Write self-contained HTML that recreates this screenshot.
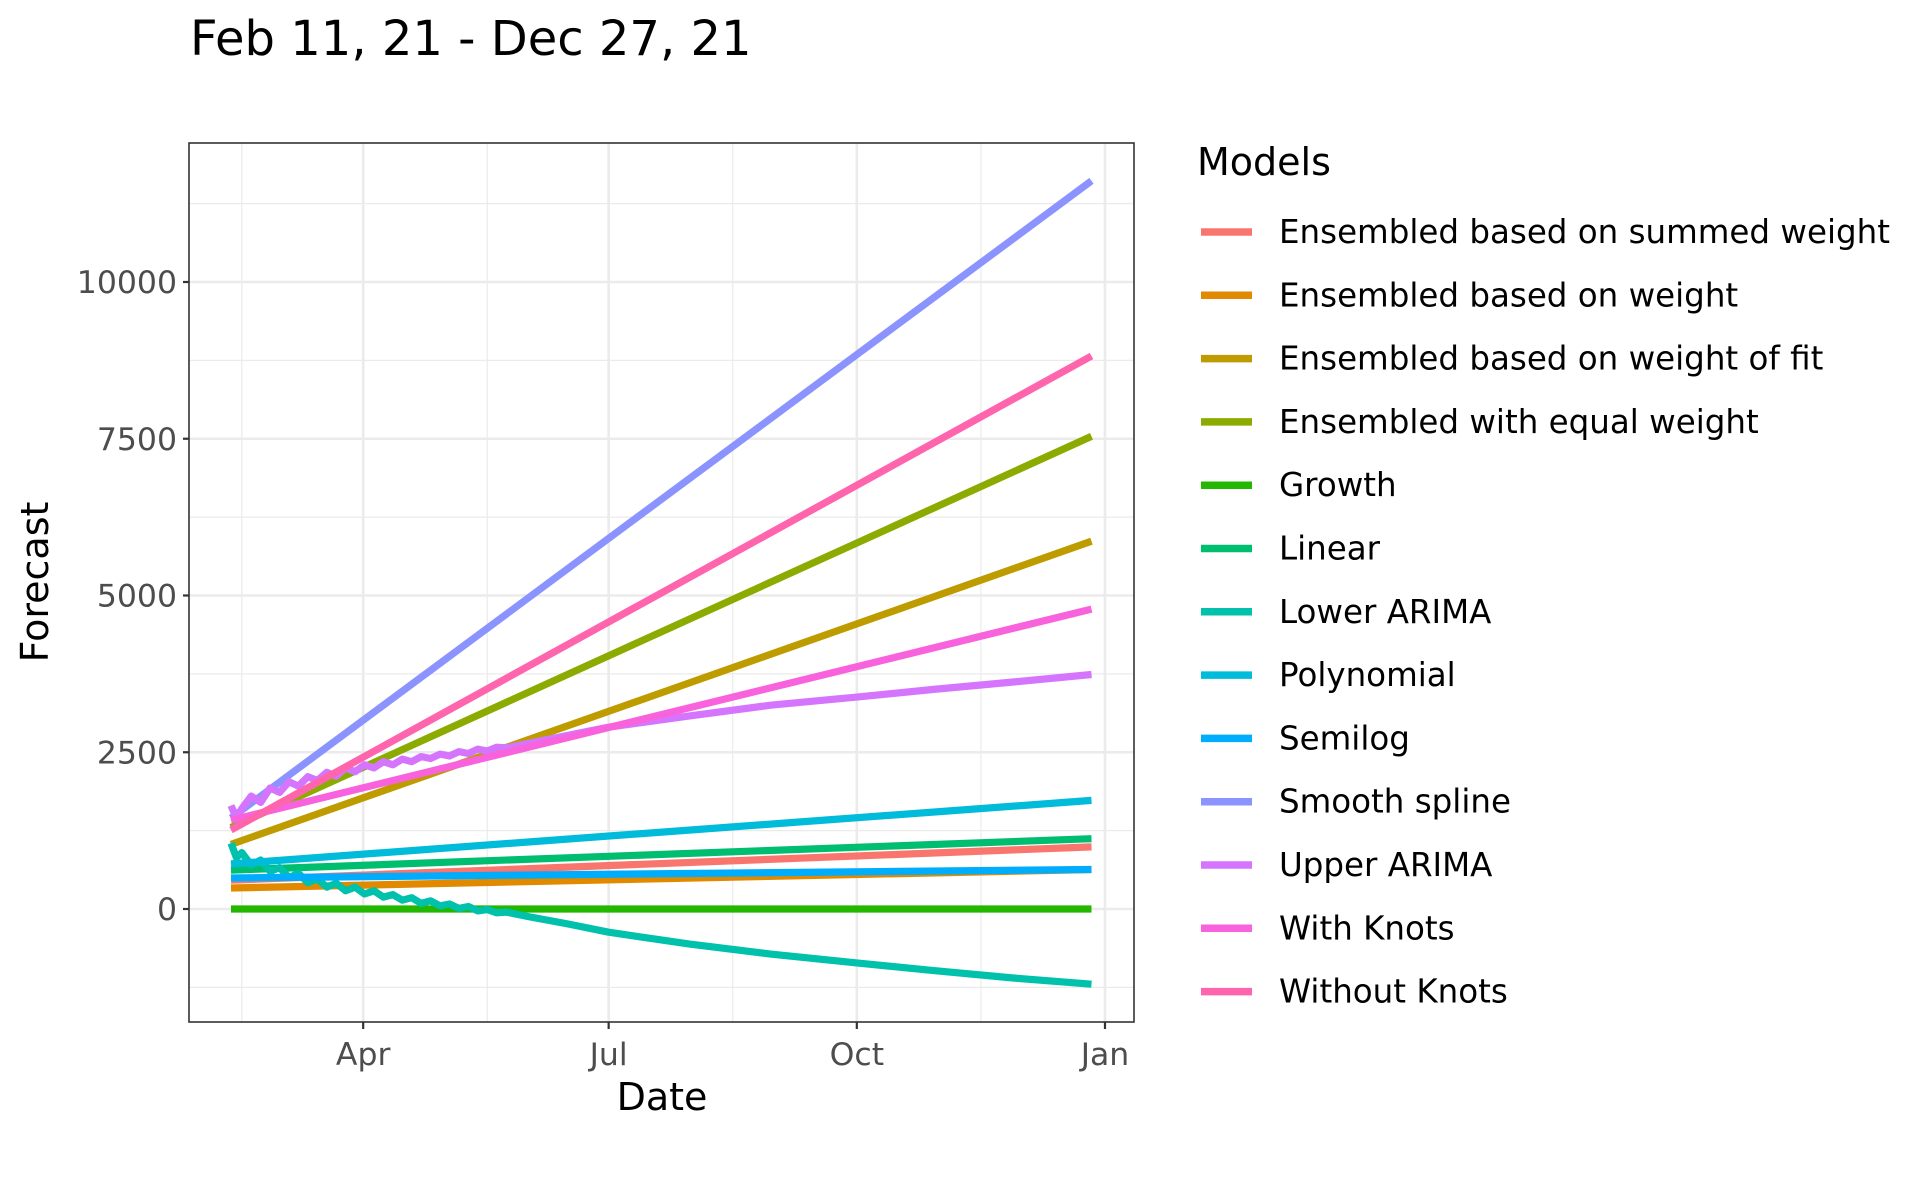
<!DOCTYPE html>
<html><head><meta charset="utf-8"><style>
html,body{margin:0;padding:0;background:#fff;}
svg{display:block;font-family:"DejaVu Sans","Liberation Sans",sans-serif;}
</style></head><body>
<svg id="chart" width="1925" height="1189" viewBox="0 0 1925 1189">
<text x="190" y="55" font-size="48" fill="#000">Feb 11, 21 - Dec 27, 21</text>
<g id="grid"></g>
<g id="series"></g>
<rect x="189" y="143" width="945" height="879" fill="none" stroke="#333" stroke-width="1.6"/>
<g id="axes"></g>
<text x="662" y="1110" font-size="38" text-anchor="middle">Date</text>
<text transform="translate(48,582) rotate(-90)" font-size="38" text-anchor="middle">Forecast</text>
<text x="1197" y="175" font-size="38">Models</text>
<g id="legend"></g>
</svg>
<script>
const models = ["Ensembled based on summed weight","Ensembled based on weight","Ensembled based on weight of fit","Ensembled with equal weight","Growth","Linear","Lower ARIMA","Polynomial","Semilog","Smooth spline","Upper ARIMA","With Knots","Without Knots"];
const colors = ["#F8766D","#E18A00","#BE9C00","#8CAB00","#24B700","#00BE70","#00C1AB","#00BBDA","#00ACFC","#8B93FF","#D575FE","#F962DD","#FF65AC"];
// day offsets from Feb 11, 2021
const days_summed = [0,319]; const vals_summed = [460,990];
const days_weight = [0,319]; const vals_weight = [335,630];
const days_fit = [0,319]; const vals_fit = [1030,5866];
const days_equal = [0,319]; const vals_equal = [1300,7539];
const days_growth = [0,319]; const vals_growth = [0,0];
const days_linear = [0,319]; const vals_linear = [620,1122];
const days_lower = [0,2,4,7.5,11,14.5,18,21.5,25,28.5,32,35.5,39,42.5,46,49.5,53,56.5,60,63.5,67,70.5,74,77.5,81,84.5,88,91.5,95,98.5,102,110,125,140,170,200,232,260,290,319];
const vals_lower = [1050,820,900,700,780,600,660,500,570,420,480,350,410,290,350,240,290,190,230,140,180,90,130,50,80,10,40,-30,-10,-60,-50,-120,-240,-370,-560,-720,-860,-980,-1100,-1200];
const days_poly = [0,319]; const vals_poly = [720,1732];
const days_semilog = [0,319]; const vals_semilog = [494,630];
const days_spline = [0,319]; const vals_spline = [1450,11614];
const days_upper = [0,2,4,7.5,11,14.5,18,21.5,25,28.5,32,35.5,39,42.5,46,49.5,53,56.5,60,63.5,67,70.5,74,77.5,81,84.5,88,91.5,95,98.5,102,110,125,140,170,200,232,260,290,319];
const vals_upper = [1650,1450,1600,1800,1700,1930,1860,2030,1960,2110,2050,2180,2120,2250,2190,2300,2250,2350,2300,2390,2350,2430,2400,2470,2440,2510,2480,2550,2520,2580,2570,2640,2770,2900,3080,3250,3380,3500,3620,3740];
const days_knots = [0,319]; const vals_knots = [1417,4783];
const days_noknots = [0,319]; const vals_noknots = [1260,8819];
const seriesDays = [days_summed,days_weight,days_fit,days_equal,days_growth,days_linear,days_lower,days_poly,days_semilog,days_spline,days_upper,days_knots,days_noknots];
const seriesVals = [vals_summed,vals_weight,vals_fit,vals_equal,vals_growth,vals_linear,vals_lower,vals_poly,vals_semilog,vals_spline,vals_upper,vals_knots,vals_noknots];
const yTicks = [0,2500,5000,7500,10000];
const yMinor = [-1250,1250,3750,6250,8750,11250];
const xTickLabels = ["Apr","Jul","Oct","Jan"];
const xTickDays = [49,140,232,324];
const xMinorDays = [4,95,186,278];

const NS="http://www.w3.org/2000/svg";
const L=189,R=1134,T=143,B=1022;
function xs(d){return 231+d*2.6975;}
function ys(v){return 909-v*0.0627;}
function mk(tag,attrs,parent){const e=document.createElementNS(NS,tag);for(const k in attrs)e.setAttribute(k,attrs[k]);parent.appendChild(e);return e;}
const grid=document.getElementById('grid'),axes=document.getElementById('axes'),ser=document.getElementById('series'),leg=document.getElementById('legend');
yMinor.forEach(v=>{const e=mk('line',{x1:L,x2:R,y1:ys(v),y2:ys(v),stroke:'#ebebeb','stroke-width':1.2},grid);

});
xMinorDays.forEach(d=>{const e=mk('line',{x1:xs(d),x2:xs(d),y1:T,y2:B,stroke:'#ebebeb','stroke-width':1.2},grid);

});
yTicks.forEach(v=>{const e=mk('line',{x1:L,x2:R,y1:ys(v),y2:ys(v),stroke:'#ebebeb','stroke-width':2.6},grid);


const t=mk('line',{x1:L-6,x2:L,y1:ys(v),y2:ys(v),stroke:'#333','stroke-width':2.2},axes);


const lb=mk('text',{x:L-12,y:ys(v)+11,'font-size':31.5,fill:'#4d4d4d','text-anchor':'end'},axes);lb.textContent=String(v);

});
xTickDays.forEach((d,i)=>{const e=mk('line',{x1:xs(d),x2:xs(d),y1:T,y2:B,stroke:'#ebebeb','stroke-width':2.6},grid);


const t=mk('line',{x1:xs(d),x2:xs(d),y1:B,y2:B+7,stroke:'#333','stroke-width':2.2},axes);


const lb=mk('text',{x:xs(d),y:1065,'font-size':31.5,fill:'#4d4d4d','text-anchor':'middle'},axes);lb.textContent=xTickLabels[i];

});
models.forEach((m,i)=>{
 const pts=seriesDays[i].map((d,j)=>xs(d).toFixed(1)+','+ys(seriesVals[i][j]).toFixed(1)).join(' ');
 const p=mk('polyline',{points:pts,fill:'none',stroke:colors[i],'stroke-width':7.2,'stroke-linejoin':'round'},ser);
 
 
 const y=232+i*63.3;
 const k=mk('line',{x1:1201,x2:1252,y1:y,y2:y,stroke:colors[i],'stroke-width':7.5},leg);
 
 
 const t=mk('text',{x:1279,y:y+11,'font-size':32.5,fill:'#000'},leg);t.textContent=m;
 
 
});
</script>
</body></html>
